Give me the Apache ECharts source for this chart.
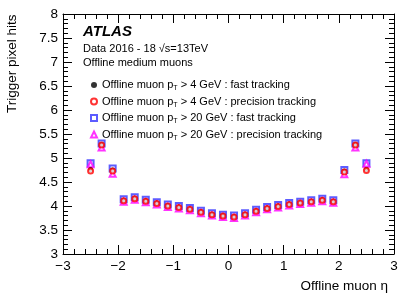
<!DOCTYPE html>
<html>
<head>
<meta charset="utf-8">
<script src="https://cdn.jsdelivr.net/npm/echarts@6/dist/echarts.min.js"></script>
<style>html,body{margin:0;padding:0;background:#fff;}#c{width:415px;height:298px;}</style>
</head>
<body>
<div id="c"></div>
<script>
const eta = [-2.5,-2.3,-2.1,-1.9,-1.7,-1.5,-1.3,-1.1,-0.9,-0.7,-0.5,-0.3,-0.1,0.1,0.3,0.5,0.7,0.9,1.1,1.3,1.5,1.7,1.9,2.1,2.3,2.5];
const fast4 = [4.76,5.28,4.75,4.12,4.16,4.11,4.06,4.01,3.98,3.94,3.88,3.83,3.80,3.78,3.83,3.90,3.96,4.00,4.04,4.07,4.10,4.13,4.10,4.73,5.28,4.76];
const prec4 = [4.73,5.27,4.73,4.11,4.15,4.10,4.05,4.00,3.97,3.93,3.87,3.82,3.79,3.77,3.82,3.89,3.95,3.99,4.03,4.06,4.09,4.12,4.09,4.71,5.27,4.74];
const fast20 = [4.89,5.30,4.78,4.14,4.18,4.13,4.08,4.03,4.00,3.96,3.90,3.85,3.82,3.80,3.85,3.92,3.98,4.02,4.06,4.09,4.12,4.15,4.12,4.75,5.30,4.89];
const prec20 = [4.87,5.22,4.67,4.09,4.13,4.08,4.03,3.98,3.95,3.91,3.85,3.80,3.77,3.75,3.80,3.87,3.93,3.97,4.01,4.04,4.07,4.10,4.07,4.66,5.22,4.88];
const names = ['Offline muon p{s|T} > 4 GeV : fast tracking','Offline muon p{s|T} > 4 GeV : precision tracking','Offline muon p{s|T} > 20 GeV : fast tracking','Offline muon p{s|T} > 20 GeV : precision tracking'];
const yTicks = ['3','3.5','4','4.5','5','5.5','6','6.5','7','7.5','8'];
const xTicks = ['−3','−2','−1','0','1','2','3'];

const FONT = 'Liberation Sans';
function pts(v){ return eta.map((x,i)=>[x,v[i]]); }
const chart = echarts.init(document.getElementById('c'));
function frameAxis(){ return {
  axisLine:{show:true,onZero:false,lineStyle:{color:'#000',width:1}},
  axisTick:{show:true,inside:true,length:9,lineStyle:{color:'#000'}},
  minorTick:{show:true,splitNumber:5,length:5,lineStyle:{color:'#000'}},
  splitLine:{show:false},
};}
chart.setOption({
  animation:false,
  grid:{left:63,right:21,top:14,bottom:44},
  xAxis:[
    Object.assign({type:'value',min:-3,max:3,interval:1,position:'bottom',
      axisLabel:{color:'#000',fontFamily:FONT,fontSize:13.5,margin:5,
        formatter:v=>xTicks[Math.round(v+3)]}}, frameAxis()),
    Object.assign({type:'value',min:-3,max:3,interval:1,position:'top',axisLabel:{show:false}}, frameAxis())
  ],
  yAxis:[
    Object.assign({type:'value',min:3,max:8,interval:0.5,position:'left',
      axisLabel:{color:'#000',fontFamily:FONT,fontSize:13.5,margin:5,
        formatter:v=>yTicks[Math.round((v-3)*2)]}}, frameAxis()),
    Object.assign({type:'value',min:3,max:8,interval:0.5,position:'right',axisLabel:{show:false}}, frameAxis())
  ],
  legend:{
    orient:'vertical',left:85,top:73,itemWidth:6,itemHeight:6,itemGap:2.5,itemTextGap:6,
    selectedMode:false,
    textStyle:{color:'#000',fontFamily:FONT,fontSize:11,lineHeight:14,
      rich:{s:{fontSize:7,fontFamily:FONT,color:'#000',padding:[7,0,0,0],lineHeight:14}}},
    data:names
  },
  graphic:[
    {type:'text',left:83,top:24,style:{text:'ATLAS',font:'italic bold 15px "Liberation Sans"',fill:'#000'}},
    {type:'text',left:83,top:43,style:{text:'Data 2016 - 18 √s=13TeV',font:'11px "Liberation Sans"',fill:'#000'}},
    {type:'text',left:83,top:57,style:{text:'Offline medium muons',font:'11px "Liberation Sans"',fill:'#000'}},
    {type:'text',x:5,y:113,rotation:Math.PI/2,style:{text:'Trigger pixel hits',font:'13.5px "Liberation Sans"',fill:'#000',textAlign:'left',textVerticalAlign:'top'}},
    {type:'text',right:27,top:279,style:{text:'Offline muon η',font:'13.5px "Liberation Sans"',fill:'#000'}}
  ],
  series:[
    {name:names[0],type:'scatter',data:pts(fast4),symbol:'circle',symbolSize:5,itemStyle:{color:'#000'},z:5},
    {name:names[1],type:'scatter',data:pts(prec4),symbol:'emptyCircle',symbolSize:5,itemStyle:{color:'#ff0000',borderColor:'#ff0000',borderWidth:1},z:6},
    {name:names[2],type:'scatter',data:pts(fast20),symbol:'emptyRect',symbolSize:6,itemStyle:{color:'#3333ff',borderColor:'#3333ff',borderWidth:1},z:3},
    {name:names[3],type:'scatter',data:pts(prec20),symbol:'emptyTriangle',symbolSize:6,itemStyle:{color:'#ff00ff',borderColor:'#ff00ff',borderWidth:1},z:4}
  ]
});
</script>
</body>
</html>
